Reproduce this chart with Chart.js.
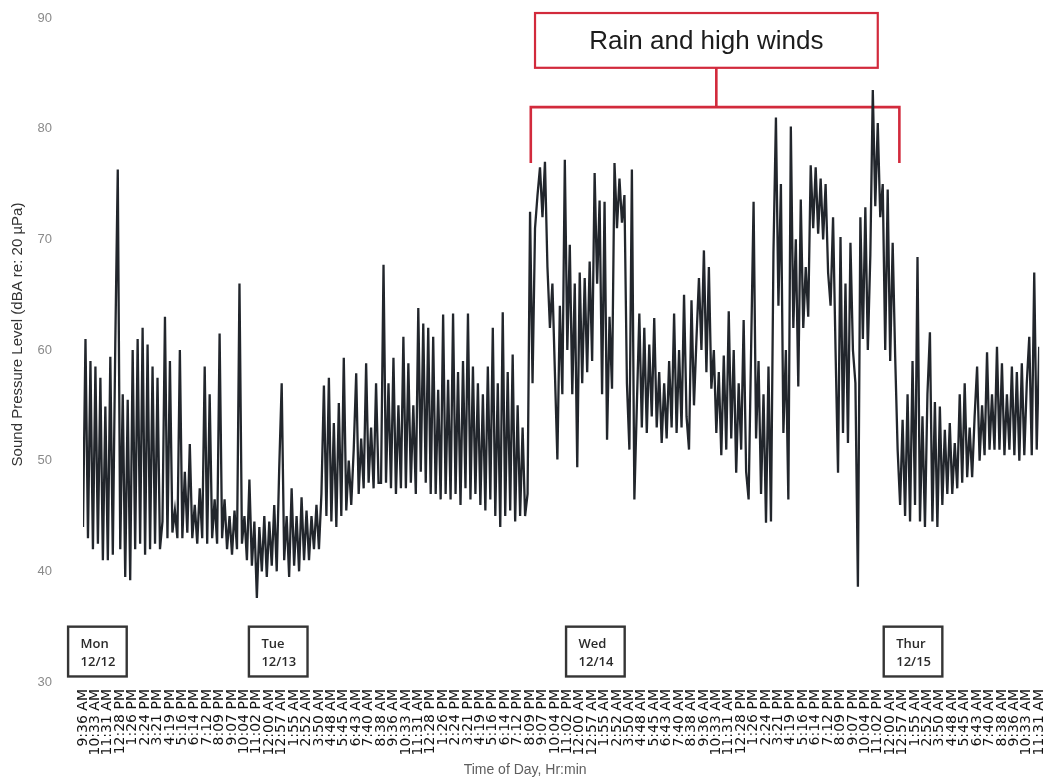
<!DOCTYPE html>
<html>
<head>
<meta charset="utf-8">
<script src="https://cdn.jsdelivr.net/npm/chart.js@4.4.1/dist/chart.umd.min.js"></script>
<style>
html,body{margin:0;padding:0;background:#ffffff;}
#wrap{width:1063px;height:781px;position:relative;}
</style>
</head>
<body>
<div id="wrap"><canvas id="c" width="1063" height="781"></canvas></div>
<script>
// ---- tick labels (one every 57.5 min) ----
const dayTicks = ['9:36 AM','10:33 AM','11:31 AM','12:28 PM','1:26 PM','2:24 PM','3:21 PM','4:19 PM','5:16 PM','6:14 PM','7:12 PM','8:09 PM','9:07 PM','10:04 PM','11:02 PM','12:00 AM','12:57 AM','1:55 AM','2:52 AM','3:50 AM','4:48 AM','5:45 AM','6:43 AM','7:40 AM','8:38 AM'];
const lastTicks = ['9:36 AM','10:33 AM','11:31 AM'];
const tickLabels = [...dayTicks, ...dayTicks, ...dayTicks, ...lastTicks];
const samplesPerTick = 5;

// ---- sound pressure level, dBA ----
const mondayValues = [
 44,61,43,59,42,58.5,42.5,57.5,41,54.9,
 41,59.4,41.5,60.6,76.3,42,56,39.5,55.5,39.2,
 60,42,61,42.5,62,41.5,60.5,42,58.5,42.5,
 57.5,42,44.5,63,43,59,43.5,45.5,43,60,
 43,49,43.5,51.5,43,46,42.5,47.5,43,58.5,
 42.5,56,43,46.5,42.5,61.5,43,46.5,42,45,
 41.5,45.5,42,66,42.5,45,41,48.3,40.5,44.5,
 37.6,44,40,45,39.5
];
const tuesdayValues = [
 44.5,40.5,46,40,49.3,
 57,41,45,39.5,47.5,40.5,45,40,46.7,41,
 45.5,41,45,42,46,42,47,56.8,45,57.5,
 44.5,53.4,44,55.2,45,59.3,45.5,50,46,51,
 57.9,47,52,47.5,58.8,48,53,47.5,57,48,
 48,67.7,48,57,47.5,59.3,47,55,47.5,61.2,
 47.5,58.8,48,55,47,63.8,49,62.4,48,62,
 47,61.2,47,56.4,46.5,63.2,47,57.3,46.5,63.3,
 47,58,46,59,47.5,63.3,46.5,58.5,47,57,
 46,56,45.5,58.5,46.5,62,45,57,44,63.4,
 45,58,45.5,59.6,44.5,55,45,53,45,47,
 72.5,57,71,74,76.5,72,77,67.5,62,66,
 58,50.1,64,56,77.2,60,69.5,56,66,49.4
];
const wednesdayValues = [
 67,57,66.5,58,68,59,76,66,73.5,56,
 73.4,51.9,63,56.5,76.9,71,75.5,71.5,74,57,
 51,76.3,46.5,55,63.3,53,62,52.5,60.5,54,
 62.9,53,58,51.6,57,52,59,53,63.3,52.5,
 60,53,65,54,51,64.5,55,61,66.5,60,
 69,58,67.5,56.5,60,52.5,58,50.5,59.5,51,
 63.5,52,60,48.9,57,51,62.7,49,46.5,60,
 73.4,52,59,47,56,44.4,58.5,44.5,68.8,81,
 64,75,52.5,60,46.5,80.2,62,70,56.7,73.6,
 62,67.5,63,76.7,71,76.5,70.5,75.5,70,75,
 67,64,72,60,48.9,70.2,52.5,66,51.6,69.7,
 60,57,38.6,72,61,72.9,60,68.5,83.5,73,
 80.5,72,75,60,74.5
];
const thursdayValues = [
 59,69.7,59.5,51,46,
 53.7,45,56,44.5,59,46,68.4,44.5,54,44,
 56,61.6,44.5,55.3,44,54.9,46,52.8,47,53.4,
 47,51.6,47.5,56,48,57,48.5,53,48.5,54,
 58.5,50,55,50.5,59.8,51,56,51,60.3,51,
 58.8,50.5,56,51,58.5,50.5,58,50,58.8,50.5,
 57,61.2,50.5,67,51,60.3
];
const splValues = [...mondayValues, ...tuesdayValues, ...wednesdayValues, ...thursdayValues];

// ---- annotations (in axis units: x = sample index, y = dBA) ----
const dayNames = ['Mon','Tue','Wed','Thur'];
const dayDates = ['12/12','12/13','12/14','12/15'];
const dayBoxLeft = [-6, 66.8, 194.5, 322.4];
const dayBoxWidth = 23.6;
const dayBoxTop = 35.0, dayBoxBottom = 30.5;
const rainNote = {text:'Rain and high winds', boxLeft:182, boxRight:320, boxTop:90.45, boxBottom:85.5,
  stem:255, bracket:81.95, left:180.3, right:328.7, legBottom:76.9};
const xTitle = {text:'Time of Day, Hr:min', at:178};
const yTitle = {text:'Sound Pressure Level (dBA re: 20 µPa)', at:61.4};

const annotations = {
  id:'annotations',
  beforeDatasetsDraw(chart){
    const {ctx, scales:{x, y}} = chart;
    const X = v => x.getPixelForValue(v), Y = v => y.getPixelForValue(v);
    ctx.save();
    ctx.strokeStyle = '#d22a3c';
    ctx.lineWidth = 2.6;
    ctx.lineCap = 'butt';
    ctx.beginPath();
    ctx.moveTo(X(rainNote.left), Y(rainNote.legBottom));
    ctx.lineTo(X(rainNote.left), Y(rainNote.bracket));
    ctx.lineTo(X(rainNote.right), Y(rainNote.bracket));
    ctx.lineTo(X(rainNote.right), Y(rainNote.legBottom));
    ctx.moveTo(X(rainNote.stem), Y(rainNote.bracket));
    ctx.lineTo(X(rainNote.stem), Y(rainNote.boxBottom));
    ctx.stroke();
    const bx = X(rainNote.boxLeft), by = Y(rainNote.boxTop);
    const bw = X(rainNote.boxRight) - bx, bh = Y(rainNote.boxBottom) - by;
    ctx.fillStyle = '#ffffff';
    ctx.fillRect(bx, by, bw, bh);
    ctx.lineWidth = 2.2;
    ctx.strokeRect(bx, by, bw, bh);
    ctx.fillStyle = '#1c1c1c';
    ctx.font = '26px "Liberation Sans", Arial, sans-serif';
    ctx.textAlign = 'center';
    ctx.textBaseline = 'middle';
    ctx.fillText(rainNote.text, bx + bw/2, by + bh/2 + 1);
    ctx.restore();
  },
  afterDraw(chart){
    const {ctx, scales:{x, y}} = chart;
    const X = v => x.getPixelForValue(v), Y = v => y.getPixelForValue(v);
    ctx.save();
    for (let i = 0; i < dayNames.length; i++){
      const bx = X(dayBoxLeft[i]), by = Y(dayBoxTop);
      const bw = X(dayBoxLeft[i] + dayBoxWidth) - bx, bh = Y(dayBoxBottom) - by;
      ctx.fillStyle = '#ffffff';
      ctx.fillRect(bx, by, bw, bh);
      ctx.strokeStyle = '#353535';
      ctx.lineWidth = 2.4;
      ctx.strokeRect(bx, by, bw, bh);
      ctx.fillStyle = '#2a2a2a';
      ctx.font = '600 13px "Open Sans", "Liberation Sans", sans-serif';
      ctx.textAlign = 'left';
      ctx.textBaseline = 'middle';
      ctx.fillText(dayNames[i], bx + 12.5, by + 18);
      ctx.fillText(dayDates[i], bx + 12.5, by + 36);
    }
    // x axis title
    ctx.fillStyle = '#5e5e5e';
    ctx.font = '14px "Liberation Sans", Arial, sans-serif';
    ctx.textAlign = 'center';
    ctx.textBaseline = 'middle';
    ctx.fillText(xTitle.text, X(xTitle.at), chart.height - 11);
    // y axis title
    ctx.translate(18, Y(yTitle.at));
    ctx.rotate(-Math.PI / 2);
    ctx.fillStyle = '#333333';
    ctx.font = '15px "Liberation Sans", Arial, sans-serif';
    ctx.fillText(yTitle.text, 0, 0);
    ctx.restore();
  }
};

new Chart(document.getElementById('c'), {
  type:'line',
  data:{
    datasets:[{
      data: splValues.map((v, i) => ({x:i, y:v})),
      borderColor:'#22262c',
      borderWidth:2.3,
      pointRadius:0,
      tension:0,
      fill:false
    }]
  },
  options:{
    responsive:false,
    animation:false,
    layout:{padding:{left:8, right:20, top:18, bottom:0}},
    plugins:{legend:{display:false}, tooltip:{enabled:false}},
    scales:{
      x:{
        type:'linear',
        min:0,
        max:splValues.length - 1,
        grid:{display:false, drawTicks:false},
        border:{display:false},
        ticks:{
          stepSize:samplesPerTick,
          autoSkip:false,
          maxRotation:90,
          minRotation:90,
          padding:7,
          color:'#141414',
          font:{family:'"DejaVu Sans", sans-serif', size:14},
          callback:(v) => { const k = Math.round(v / samplesPerTick); return tickLabels[k] !== undefined ? tickLabels[k] : ''; }
        },
        afterFit:(s) => { s.height = 99; }
      },
      y:{
        min:30,
        max:90,
        grid:{display:false, drawTicks:true, tickLength:31},
        border:{display:false},
        ticks:{stepSize:10, padding:0, color:'#8a8a8a', font:{family:'"Liberation Sans", Arial, sans-serif', size:13}},
        title:{display:false},
        afterFit:(s) => { s.width = 75; }
      }
    }
  },
  plugins:[annotations]
});
</script>
</body>
</html>
